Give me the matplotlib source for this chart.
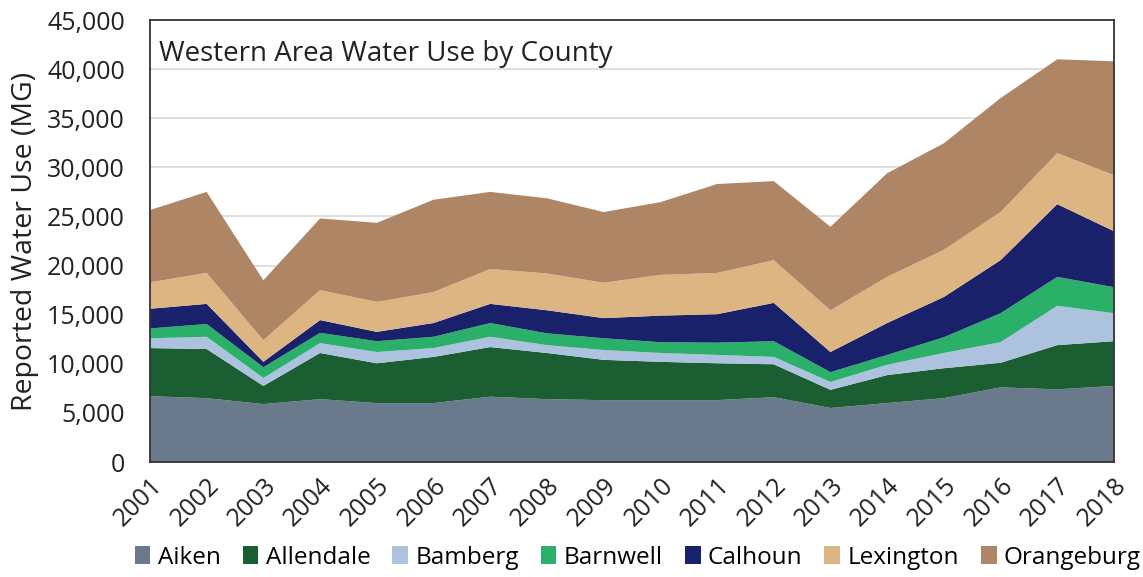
import numpy as np
import matplotlib
matplotlib.use("Agg")
import matplotlib.pyplot as plt
from matplotlib.ticker import FuncFormatter
from matplotlib.patches import Patch

plt.rcParams['font.family'] = ['Open Sans', 'DejaVu Sans']

years = list(range(2001, 2019))
counties = ["Aiken", "Allendale", "Bamberg", "Barnwell", "Calhoun", "Lexington", "Orangeburg"]

aiken      = [6700, 6500, 5900, 6400, 6000, 6000, 6650, 6400, 6300, 6300, 6300, 6600, 5500, 6000, 6500, 7600, 7400, 7750]
allendale  = [4900, 5000, 1850, 4700, 4050, 4700, 5050, 4700, 4100, 3900, 3750, 3350, 1850, 2850, 3050, 2500, 4500, 4550]
bamberg    = [1000, 1250, 800, 1000, 1150, 900, 1050, 800, 1000, 900, 850, 750, 800, 1050, 1550, 2100, 4000, 2850]
barnwell   = [1000, 1300, 1100, 1050, 1100, 1150, 1400, 1200, 1200, 1100, 1250, 1600, 1000, 1000, 1600, 2950, 2950, 2650]
calhoun    = [2000, 2050, 550, 1300, 950, 1400, 1950, 2350, 2050, 2700, 2900, 3900, 2050, 3250, 4100, 5400, 7400, 5700]
lexington  = [2700, 3150, 2200, 3050, 3050, 3150, 3550, 3750, 3600, 4150, 4200, 4350, 4250, 4700, 4800, 4900, 5200, 5700]
orangeburg = [7350, 8250, 6100, 7300, 8050, 9400, 7850, 7650, 7200, 7400, 9050, 8050, 8500, 10550, 10850, 11600, 9550, 11600]

colors = ["#6A7A8C", "#1A5E32", "#ADC2DE", "#2BB06A", "#18216A", "#DDB582", "#AE8565"]

fig = plt.figure(figsize=(11.43, 5.77), dpi=100)
ax = fig.add_axes([0.1312, 0.1993, 0.8434, 0.766])

ax.stackplot(years, aiken, allendale, bamberg, barnwell, calhoun, lexington, orangeburg,
             colors=colors, linewidth=0, zorder=2)

ax.set_xlim(2001, 2018)
ax.set_ylim(0, 45000)
ax.set_yticks(np.arange(0, 45001, 5000))
ax.yaxis.set_major_formatter(FuncFormatter(lambda v, p: f"{int(v):,}"))
ax.set_xticks(years)
ax.set_xticklabels([str(y) for y in years], rotation=45, ha='right', rotation_mode='anchor')
ax.tick_params(axis='both', length=0, labelsize=18, colors='#222222')
ax.tick_params(axis='y', pad=18)
ax.tick_params(axis='x', pad=8)

ax.grid(axis='y', color='#d9d9d9', linewidth=1.2, zorder=0)
ax.set_axisbelow(True)
for s in ax.spines.values():
    s.set_color('#333333')
    s.set_linewidth(1.3)

ax.set_ylabel("Reported Water Use (MG)", fontsize=20.5, color='#222222', labelpad=6)
ax.text(0.009, 0.955, "Western Area Water Use by County", transform=ax.transAxes,
        fontsize=20, va='top', ha='left', color='#222222')

handles = [Patch(facecolor=c, label=n) for c, n in zip(colors, counties)]
fig.legend(handles=handles, loc='lower center', bbox_to_anchor=(0.558, -0.025), ncol=7,
           frameon=False, fontsize=17.5, handlelength=0.65, handleheight=0.75,
           handletextpad=0.3, columnspacing=0.9)

fig.savefig("out.png", dpi=100)
